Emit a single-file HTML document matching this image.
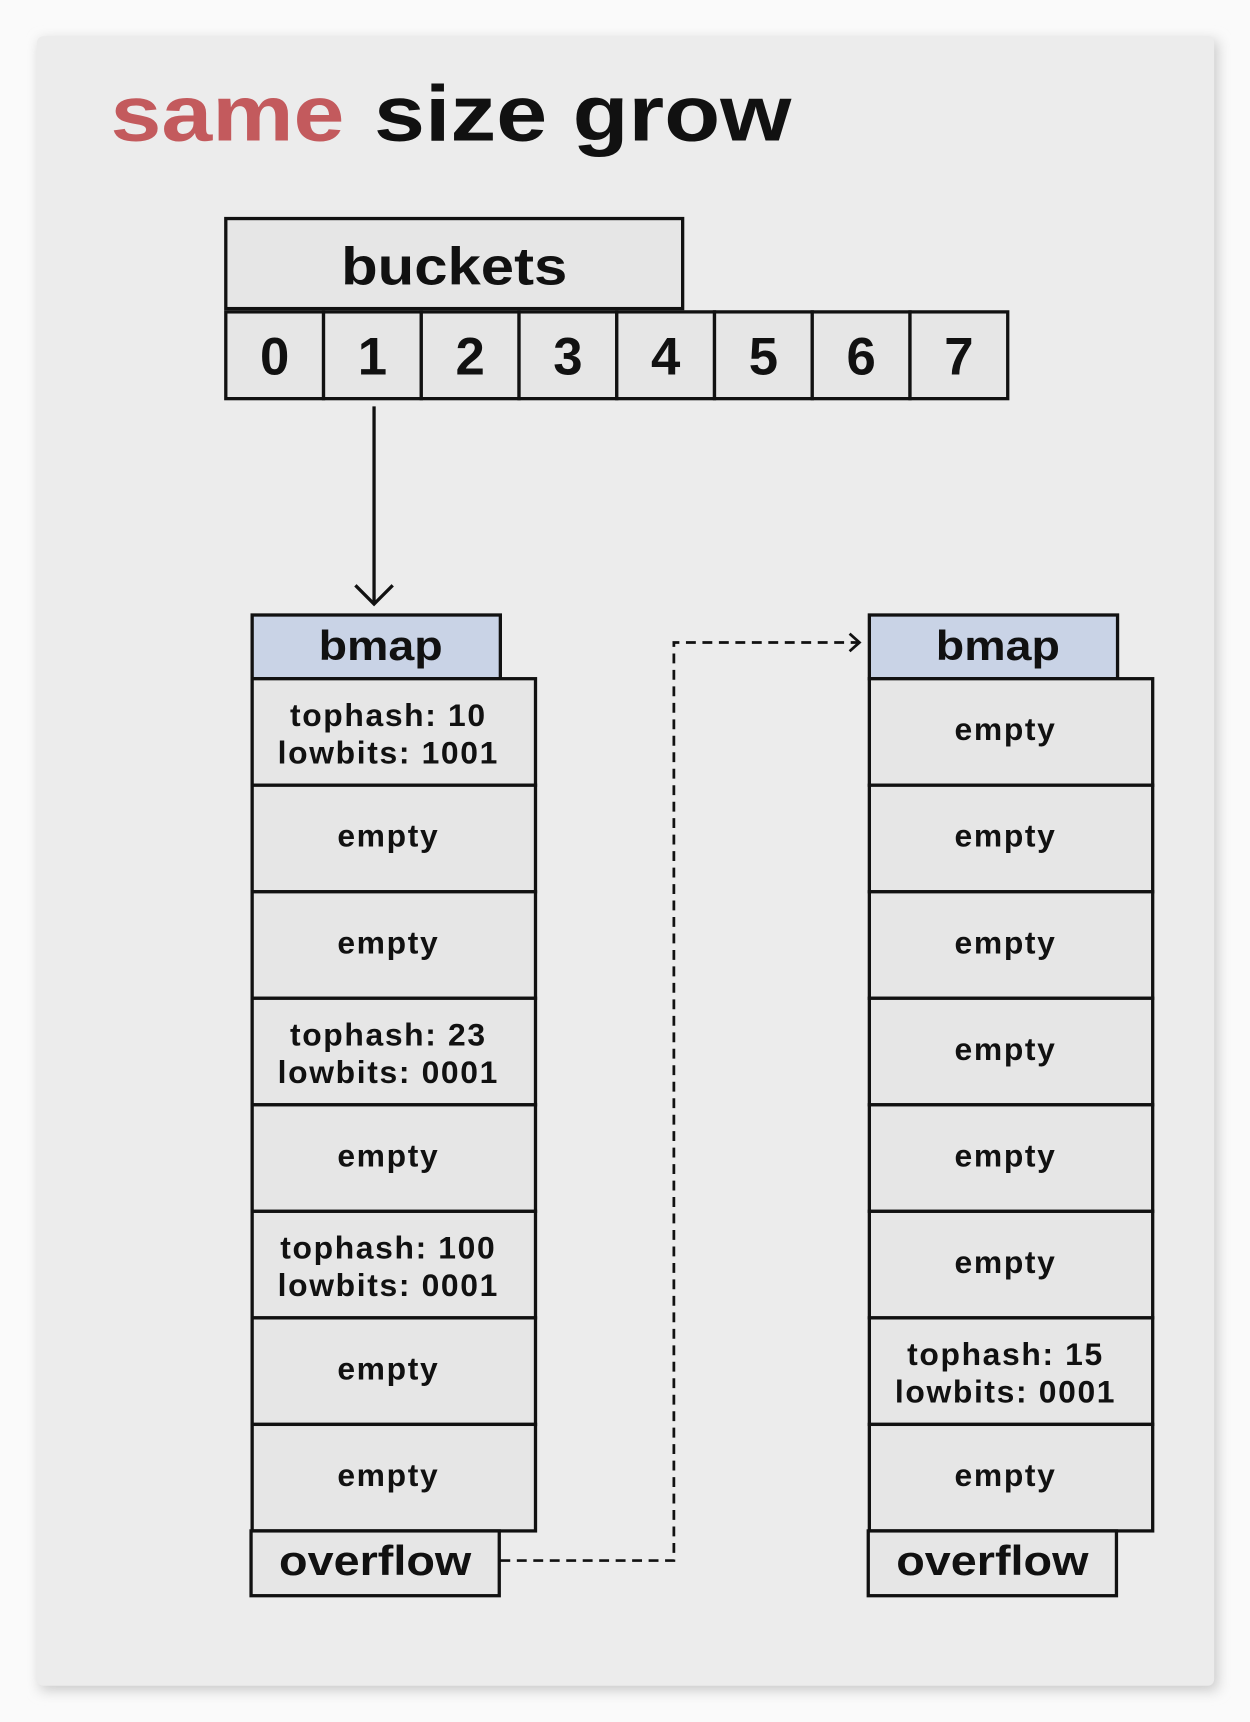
<!DOCTYPE html>
<html><head><meta charset="utf-8"><style>
html,body{margin:0;padding:0;background:#fafafa;width:1250px;height:1722px;overflow:hidden}
svg{display:block}
text{font-family:"Liberation Sans","DejaVu Sans",sans-serif;font-weight:bold;fill:#111}
</style></head><body>
<svg width="1250" height="1722" viewBox="0 0 1137 1568">
<defs><filter id="sh" x="-5%" y="-5%" width="110%" height="110%"><feGaussianBlur stdDeviation="6"/></filter></defs>
<rect x="36" y="37" width="1072" height="1502" fill="#c8c8c8" filter="url(#sh)"/>
<rect x="33" y="33" width="1072" height="1502" rx="6" fill="#ececec"/>
<text x="100" y="128" font-size="72"><tspan x="100" textLength="213" lengthAdjust="spacingAndGlyphs" style="fill:#c35a5d">same</tspan><tspan x="340" textLength="380" lengthAdjust="spacingAndGlyphs">size grow</tspan></text>
<g id="diagram"></g>
</svg>
<script>
const ns='http://www.w3.org/2000/svg';
const g=document.getElementById('diagram');
function mk(tag,attrs){const e=document.createElementNS(ns,tag);for(const k in attrs)e.setAttribute(k,attrs[k]);g.appendChild(e);return e;}
const bucketIdx=['0','1','2','3','4','5','6','7'];
const leftCells=[['tophash: 10','lowbits: 1001'],['empty'],['empty'],['tophash: 23','lowbits: 0001'],['empty'],['tophash: 100','lowbits: 0001'],['empty'],['empty']];
const rightCells=[['empty'],['empty'],['empty'],['empty'],['empty'],['empty'],['tophash: 15','lowbits: 0001'],['empty']];
let e;
e=mk('rect',{x:205,y:199,width:416,height:82,fill:'#e6e6e6',stroke:'#111','stroke-width':3});


e=mk('text',{x:413,y:259,'font-size':48,'text-anchor':'middle',textLength:206,lengthAdjust:'spacingAndGlyphs'});e.textContent='buckets';


bucketIdx.forEach((d,i)=>{
  const x=205+i*89;
  let r=mk('rect',{x:x,y:284,width:89,height:79,fill:'#e6e6e6',stroke:'#111','stroke-width':3});
  
  
  let t=mk('text',{x:x+44.5,y:341,'font-size':48,'text-anchor':'middle'});t.textContent=d;
  
  
});
e=mk('path',{d:'M340 370 V550 M323 533 L340 550 L357 533',fill:'none',stroke:'#111','stroke-width':3});


function column(x0,cells,side){
  let r=mk('rect',{x:x0,y:560,width:226,height:58,fill:'#c9d3e6',stroke:'#111','stroke-width':3});
  
  
  let t=mk('text',{x:x0+117,y:601,'font-size':38,'text-anchor':'middle',textLength:113,lengthAdjust:'spacingAndGlyphs'});t.textContent='bmap';
  
  
  cells.forEach((c,i)=>{
    const y=618+i*97;
    let rr=mk('rect',{x:x0,y:y,width:258,height:97,fill:'#e6e6e6',stroke:'#111','stroke-width':3});
    
    
    const cx=x0+124;
    if(c.length===1){
      let tt=mk('text',{x:cx,y:y+56,'font-size':29,'text-anchor':'middle','letter-spacing':1.5});tt.textContent=c[0];
      
      
    }else{
      c.forEach((s,j)=>{
        let tt=mk('text',{x:cx,y:y+43+j*34,'font-size':29,'text-anchor':'middle','letter-spacing':1.5});tt.textContent=s;
        
        
      });
    }
  });
  let o=mk('rect',{x:x0-1,y:1394,width:226,height:59,fill:'#e6e6e6',stroke:'#111','stroke-width':3});
  
  
  let ot=mk('text',{x:x0+112,y:1434,'font-size':38,'text-anchor':'middle',textLength:175,lengthAdjust:'spacingAndGlyphs'});ot.textContent='overflow';
  
  
}
column(229,leftCells,'left');
column(791,rightCells,'right');
e=mk('path',{d:'M455 1421 H613 V585 H781',fill:'none',stroke:'#111','stroke-width':2.5,'stroke-dasharray':'9 6'});


e=mk('path',{d:'M773 577 L782 585 L773 593',fill:'none',stroke:'#111','stroke-width':2.5});


</script>
</body></html>
